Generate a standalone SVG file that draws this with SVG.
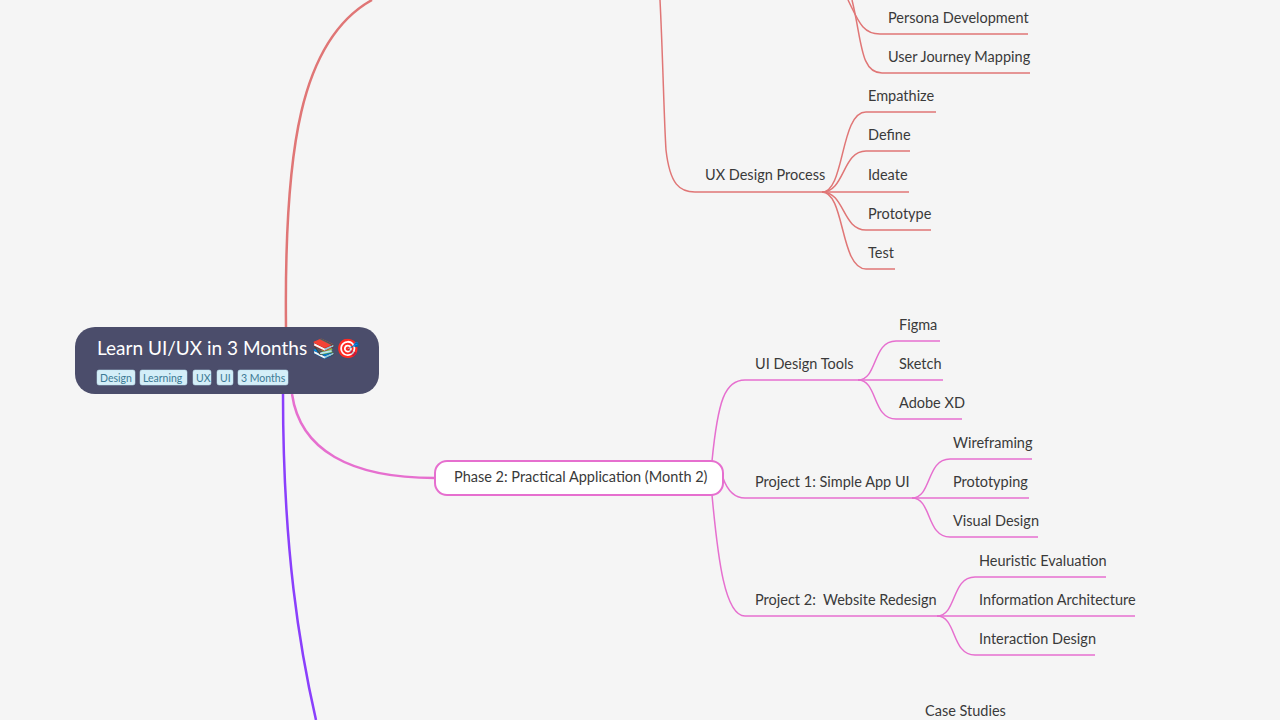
<svg xmlns="http://www.w3.org/2000/svg" width="1280" height="720" viewBox="0 0 1280 720">
<style>
.t{font-family:Lato,"Noto Sans",sans-serif;font-size:14.5px;fill:#3a3a3a}
.r{fill:none;stroke:#e07676;stroke-width:1.5}
.p{fill:none;stroke:#e66fcf;stroke-width:1.5}
.tag{fill:#d4eef8;stroke:#bfe3f0;stroke-width:0.5}
.tt{font-family:Lato,"Noto Sans",sans-serif;font-size:10.5px;fill:#3c7a95}
</style>
<rect width="1280" height="720" fill="#f5f5f5"/>
<g id="connectors">
<path d="M286,327 C284,150 300,40 372,0" fill="none" stroke="#e07676" stroke-width="2.5"/>
<path d="M292,394 C300,450 350,478 435,478" fill="none" stroke="#e66fcf" stroke-width="2.5"/>
<path d="M283,394 C283,550 300,650 316,720" fill="none" stroke="#8a3ffc" stroke-width="2.5"/>
<path class="r" d="M660,0 C663,60 664,120 666,150 C670,185 680,192 695,192 L822,192"/>
<path class="r" d="M848,0 C858,20 862,34 880,34 L1028,34"/>
<path class="r" d="M852,0 C862,40 860,73 882,73 L1030,73"/>
<path class="r" d="M822,192 C845,192 840,112 866,112 L936,112"/>
<path class="r" d="M822,192 C845,192 842,151 866,151 L910,151"/>
<path class="r" d="M822,192 L909,192"/>
<path class="r" d="M822,192 C845,192 842,230 866,230 L931,230"/>
<path class="r" d="M822,192 C845,192 840,269 866,269 L895,269"/>
<path class="p" d="M712,461 C718,400 725,380 745,380 L858,380"/>
<path class="p" d="M723,478 C728,492 735,498 745,498 L912,498"/>
<path class="p" d="M712,495 C718,560 725,616 745,616 L937,616"/>
<path class="p" d="M858,380 C878,380 872,341 896,341 L940,341"/>
<path class="p" d="M858,380 L943,380"/>
<path class="p" d="M858,380 C878,380 872,419 896,419 L962,419"/>
<path class="p" d="M912,498 C932,498 926,459 950,459 L1032,459"/>
<path class="p" d="M912,498 L1029,498"/>
<path class="p" d="M912,498 C932,498 926,537 950,537 L1038,537"/>
<path class="p" d="M937,616 C957,616 951,577 975,577 L1106,577"/>
<path class="p" d="M937,616 L1135,616"/>
<path class="p" d="M937,616 C957,616 951,655 975,655 L1095,655"/>
</g>
<g id="central">
<rect x="75" y="327" width="304" height="67" rx="20" fill="#4b4d6b"/>
<text x="97" y="355" font-family="Lato,'Noto Sans',sans-serif" font-size="19" fill="#fff">Learn UI/UX in 3 Months 📚🎯</text>
<rect class="tag" x="97" y="370" width="38" height="15" rx="2"/><text class="tt" x="100" y="382">Design</text>
<rect class="tag" x="140" y="370" width="47" height="15" rx="2"/><text class="tt" x="143" y="382">Learning</text>
<rect class="tag" x="193" y="370" width="18" height="15" rx="2"/><text class="tt" x="196" y="382">UX</text>
<rect class="tag" x="217" y="370" width="16" height="15" rx="2"/><text class="tt" x="220" y="382">UI</text>
<rect class="tag" x="238" y="370" width="50" height="15" rx="2"/><text class="tt" x="241" y="382">3 Months</text>
</g>
<g id="phase2">
<rect x="435" y="461" width="288" height="34" rx="12" fill="#fff" stroke="#e66fcf" stroke-width="2"/>
<text class="t" x="454" y="482">Phase 2: Practical Application (Month 2)</text>
</g>
<g id="n-ux"><text class="t" x="705" y="180">UX Design Process</text></g>
<g id="n-persona"><text class="t" x="888" y="23">Persona Development</text></g>
<g id="n-journey"><text class="t" x="888" y="62">User Journey Mapping</text></g>
<g id="n-emp"><text class="t" x="868" y="101">Empathize</text></g>
<g id="n-def"><text class="t" x="868" y="140">Define</text></g>
<g id="n-ide"><text class="t" x="868" y="180">Ideate</text></g>
<g id="n-pro"><text class="t" x="868" y="219">Prototype</text></g>
<g id="n-test"><text class="t" x="868" y="258">Test</text></g>
<g id="n-uitools"><text class="t" x="755" y="369">UI Design Tools</text></g>
<g id="n-p1"><text class="t" x="755" y="487">Project 1: Simple App UI</text></g>
<g id="n-p2"><text class="t" x="755" y="605" xml:space="preserve">Project 2:  Website Redesign</text></g>
<g id="n-figma"><text class="t" x="899" y="330">Figma</text></g>
<g id="n-sketch"><text class="t" x="899" y="369">Sketch</text></g>
<g id="n-xd"><text class="t" x="899" y="408">Adobe XD</text></g>
<g id="n-wire"><text class="t" x="953" y="448">Wireframing</text></g>
<g id="n-proto"><text class="t" x="953" y="487">Prototyping</text></g>
<g id="n-visual"><text class="t" x="953" y="526">Visual Design</text></g>
<g id="n-heur"><text class="t" x="979" y="566">Heuristic Evaluation</text></g>
<g id="n-ia"><text class="t" x="979" y="605">Information Architecture</text></g>
<g id="n-id"><text class="t" x="979" y="644">Interaction Design</text></g>
<g id="n-case"><text class="t" x="925" y="716">Case Studies</text></g>
</svg>
